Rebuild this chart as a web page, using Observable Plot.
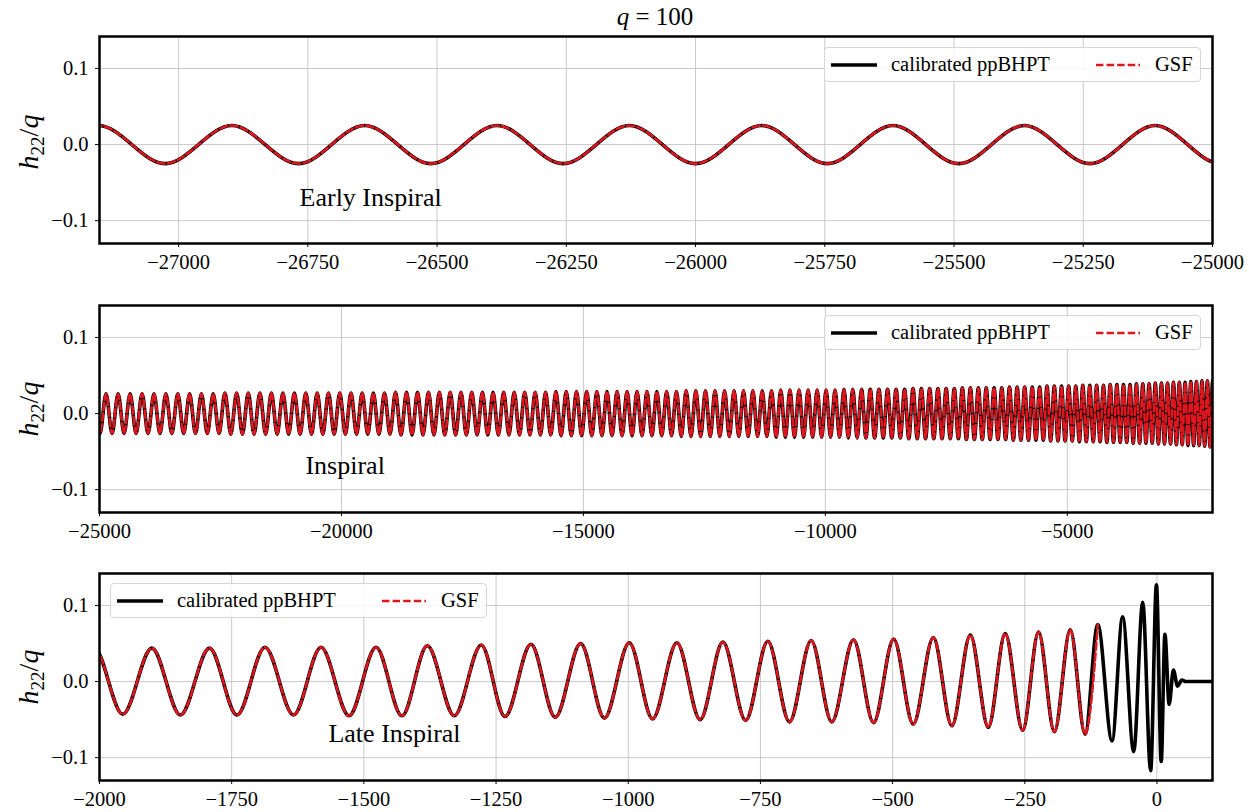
<!DOCTYPE html>
<html><head><meta charset="utf-8">
<script src="https://cdn.jsdelivr.net/npm/d3@7"></script>
<script src="https://cdn.jsdelivr.net/npm/@observablehq/plot@0.6"></script>
<style>
body{margin:0;background:#fff;}
#root{position:relative;width:1249px;height:812px;overflow:hidden;font-family:"Liberation Serif","Times New Roman",serif;color:#000;}
.panel{position:absolute;left:0;}
.title{position:absolute;top:3px;left:555px;width:200px;text-align:center;font-size:25px;line-height:28px;}
.ylab{position:absolute;width:120px;height:30px;text-align:center;font-size:28px;line-height:30px;transform:rotate(-90deg);}
.ylab sub{font-size:19px;font-style:normal;vertical-align:-6px;line-height:0;}
.legend{position:absolute;width:375px;height:33px;border:1px solid #d6d6d6;border-radius:4px;background:rgba(255,255,255,0.85);}
.legend .txt{position:absolute;top:0;line-height:33px;font-size:20.5px;white-space:nowrap;}
.legend svg{position:absolute;top:0;}
</style></head>
<body>
<div id="root">
  <div class="title"><i>q</i> = 100</div>
</div>
<script>
// ---------- data ----------
const yDomain = [-0.13, 0.142];
const yTicks = [-0.1, 0, 0.1];

const earlyTicks = [-27000, -26750, -26500, -26250, -26000, -25750, -25500, -25250, -25000];
const inspiralTicks = [-25000, -20000, -15000, -10000, -5000];
const lateTicks = [-2000, -1750, -1500, -1250, -1000, -750, -500, -250, 0];

const earlyDomain = [-27153, -25000];
const inspiralDomain = [-25000, -2000];
const lateDomain = [-2000, 105];

// extrema (time, h22/q) of the waveform
const earlyT = [-27284,-27155,-27026,-26897,-26768,-26640,-26512,-26384,-26256,-26128,-26000,-25872,-25745,-25618,-25491,-25364,-25237,-25111,-24985,-24860];
const earlyH = [-0.025,0.025,-0.025,0.025,-0.025,0.025,-0.025,0.025,-0.025,0.025,-0.025,0.025,-0.025,0.025,-0.025,0.025,-0.025,0.025,-0.025,0.025];

const inspiralT = [-25115,
-24990,-24865,-24740,-24616,-24492,-24368,-24244,-24120,-23997,-23874,
-23751,-23628,-23505,-23382,-23260,-23138,-23016,-22894,-22772,-22650,
-22529,-22408,-22287,-22166,-22046,-21926,-21806,-21686,-21567,-21448,
-21329,-21210,-21091,-20973,-20855,-20737,-20619,-20502,-20385,-20268,
-20151,-20035,-19919,-19803,-19688,-19572,-19456,-19341,-19226,-19111,
-18997,-18883,-18769,-18655,-18541,-18428,-18315,-18202,-18089,-17977,
-17865,-17753,-17641,-17530,-17419,-17308,-17197,-17087,-16977,-16867,
-16757,-16648,-16539,-16430,-16321,-16213,-16105,-15997,-15889,-15782,
-15675,-15568,-15461,-15355,-15249,-15143,-15037,-14932,-14827,-14722,
-14617,-14513,-14409,-14305,-14201,-14098,-13995,-13892,-13789,-13687,
-13585,-13483,-13381,-13280,-13179,-13078,-12977,-12877,-12777,-12677,
-12577,-12478,-12379,-12280,-12181,-12083,-11985,-11887,-11789,-11692,
-11595,-11498,-11401,-11305,-11209,-11113,-11017,-10922,-10827,-10732,
-10638,-10544,-10450,-10356,-10263,-10170,-10077,-9985,-9892,-9800,
-9708,-9616,-9525,-9434,-9343,-9252,-9162,-9072,-8982,-8893,
-8804,-8715,-8627,-8539,-8451,-8363,-8276,-8189,-8102,-8016,
-7930,-7844,-7759,-7674,-7589,-7504,-7420,-7336,-7252,-7169,
-7086,-7003,-6921,-6839,-6757,-6676,-6595,-6514,-6434,-6354,
-6274,-6195,-6116,-6037,-5959,-5881,-5803,-5726,-5649,-5572,
-5496,-5420,-5344,-5269,-5194,-5120,-5046,-4972,-4898,-4825,
-4752,-4680,-4608,-4536,-4465,-4394,-4323,-4253,-4183,-4114,
-4045,-3976,-3908,-3840,-3772,-3705,-3638,-3572,-3506,-3440,
-3375,-3310,-3246,-3182,-3118,-3055,-2992,-2930,-2868,-2807,
-2746,-2686,-2626,-2566,-2507,-2448,-2390,-2332,-2275,-2218,
-2162,-2106,-2051,-1996,-1942,-1888];
const inspiralH = [.026,
-.026,.026,-.026,.026,-.026,.026,-.026,.026,-.026,.026,
-.026,.026,-.026,.026,-.026,.026,-.026,.026,-.026,.026,
-.026,.027,-.027,.027,-.027,.027,-.027,.027,-.027,.027,
-.027,.027,-.027,.027,-.027,.027,-.027,.027,-.027,.027,
-.027,.027,-.027,.027,-.027,.027,-.027,.027,-.027,.027,
-.027,.028,-.028,.028,-.028,.028,-.028,.028,-.028,.028,
-.028,.028,-.028,.028,-.028,.028,-.028,.028,-.028,.028,
-.028,.028,-.028,.028,-.028,.028,-.028,.028,-.028,.028,
-.028,.029,-.029,.029,-.029,.029,-.029,.029,-.029,.029,
-.029,.029,-.029,.029,-.029,.029,-.029,.029,-.029,.029,
-.029,.029,-.029,.029,-.029,.029,-.030,.030,-.030,.030,
-.030,.030,-.030,.030,-.030,.030,-.030,.030,-.030,.030,
-.030,.030,-.030,.030,-.030,.030,-.031,.031,-.031,.031,
-.031,.031,-.031,.031,-.031,.031,-.031,.031,-.031,.031,
-.031,.032,-.032,.032,-.032,.032,-.032,.032,-.032,.032,
-.032,.032,-.032,.032,-.032,.032,-.033,.033,-.033,.033,
-.033,.033,-.033,.033,-.033,.033,-.033,.033,-.033,.034,
-.034,.034,-.034,.034,-.034,.034,-.034,.034,-.034,.034,
-.034,.035,-.035,.035,-.035,.035,-.035,.035,-.035,.035,
-.035,.036,-.036,.036,-.036,.036,-.036,.036,-.036,.036,
-.037,.037,-.037,.037,-.037,.037,-.037,.037,-.038,.038,
-.038,.038,-.038,.038,-.038,.038,-.039,.039,-.039,.039,
-.039,.039,-.039,.040,-.040,.040,-.040,.040,-.040,.041,
-.041,.041,-.041,.041,-.042,.042,-.042,.042,-.042,.043,
-.043,.043,-.044,.044,-.044,.044];

const lateT = [-2064,-2010,-1956,-1901,-1847,-1792,-1740,-1687,-1633,-1581,-1528,-1477,-1428,-1380,-1329,-1278,-1233,-1184,-1138,-1090,-1045,-998,-954,-908,-864,-821,-778,-736,-695,-654,-615,-574,-536,-498,-461,-423,-388,-353,-319,-287,-254,-224,-194,-164,-136,-112,-85,-65,-44,-27,-12,-1,8,15,23,31,39,47,55,105];
const lateH = [-0.043,0.044,-0.043,0.044,-0.044,0.044,-0.044,0.045,-0.044,0.045,-0.045,0.045,-0.045,0.047,-0.045,0.048,-0.046,0.049,-0.047,0.050,-0.048,0.051,-0.049,0.051,-0.050,0.052,-0.051,0.053,-0.053,0.054,-0.053,0.055,-0.054,0.056,-0.056,0.058,-0.058,0.061,-0.060,0.063,-0.064,0.065,-0.066,0.068,-0.069,0.075,-0.078,0.085,-0.092,0.104,-0.117,0.127,-0.105,0.062,-0.030,0.015,-0.006,0.002,0,0];
const gsfLateEnd = -112; // GSF curve stops here

const seriesNames = ["calibrated ppBHPT", "GSF"];
const notes = [
  {t: -26766, h: -0.07, text: "Early Inspiral"},
  {t: -20744, h: -0.069, text: "Inspiral"},
  {t: -1567, h: -0.068, text: "Late Inspiral"}
];

// ---------- styling ----------
const RED = "#e0161e";
const GRID = "#c9c9c9";
const FONT = "'Liberation Serif', 'Times New Roman', serif";

function panel(cfg) {
  const black = cfg.T.map((t, i) => ({t, h: cfg.H[i]}));
  const gsf = black.filter(d => d.t <= cfg.gsfEnd);
  return Plot.plot({
    width: 1249, height: cfg.height,
    marginLeft: 99, marginRight: 37, marginTop: cfg.mt, marginBottom: cfg.mb,
    style: {fontFamily: FONT, fontSize: "20.5px", background: "transparent", color: "black", overflow: "visible"},
    x: {domain: cfg.domain, ticks: cfg.ticks, tickFormat: d3.format("d"), tickSize: 4, tickPadding: 7, label: null},
    y: {domain: yDomain, ticks: yTicks, tickFormat: d3.format(".1f"), tickSize: 4, tickPadding: 7, label: null},
    marks: [
      Plot.ruleX(cfg.ticks, {stroke: GRID, strokeWidth: 1}),
      Plot.ruleY(yTicks, {stroke: GRID, strokeWidth: 1}),
      Plot.line(black, {x: "t", y: "h", curve: "monotone-x", stroke: "black", strokeWidth: 3.6, clip: true}),
      Plot.line(gsf, {x: "t", y: "h", curve: "monotone-x", stroke: RED, strokeWidth: 2.6, strokeDasharray: "7.4,3.2", clip: true}),
      Plot.text([cfg.note], {x: "t", y: "h", text: "text", textAnchor: "start", fontSize: 26, fontFamily: FONT, fill: "black"}),
      Plot.frame({stroke: "black", strokeWidth: 2.5})
    ]
  });
}

const root = document.getElementById("root");
const panels = [
  {T: earlyT, H: earlyH, gsfEnd: Infinity, domain: earlyDomain, ticks: earlyTicks, note: notes[0], top: 0, height: 275, mt: 36, mb: 32, ylabY: 142, legend: [824, 47]},
  {T: inspiralT, H: inspiralH, gsfEnd: Infinity, domain: inspiralDomain, ticks: inspiralTicks, note: notes[1], top: 273, height: 271, mt: 32, mb: 32, ylabY: 409, legend: [824, 315]},
  {T: lateT, H: lateH, gsfEnd: gsfLateEnd, domain: lateDomain, ticks: lateTicks, note: notes[2], top: 544, height: 268, mt: 29, mb: 32, ylabY: 677, legend: [110, 583]}
];

for (const p of panels) {
  const svg = panel(p);
  svg.classList.add("panel");
  svg.style.position = "absolute";
  svg.style.top = p.top + "px";
  svg.style.left = "0px";
  root.appendChild(svg);

  const yl = document.createElement("div");
  yl.className = "ylab";
  yl.style.left = (29 - 60) + "px";
  yl.style.top = (p.ylabY - 15) + "px";
  yl.innerHTML = "<i>h</i><sub>22</sub>/<i>q</i>";
  root.appendChild(yl);

  const lg = document.createElement("div");
  lg.className = "legend";
  lg.style.left = p.legend[0] + "px";
  lg.style.top = p.legend[1] + "px";
  lg.innerHTML =
    `<svg style="left:5px" width="48" height="33"><line x1="1" x2="47" y1="17" y2="17" stroke="black" stroke-width="3.6"/></svg>` +
    `<div class="txt" style="left:66px">${seriesNames[0]}</div>` +
    `<svg style="left:270px" width="46" height="33"><line x1="1" x2="45" y1="17" y2="17" stroke="${RED}" stroke-width="2.6" stroke-dasharray="7.4,3.2"/></svg>` +
    `<div class="txt" style="left:330px">${seriesNames[1]}</div>`;
  root.appendChild(lg);
}
</script>
</body></html>
